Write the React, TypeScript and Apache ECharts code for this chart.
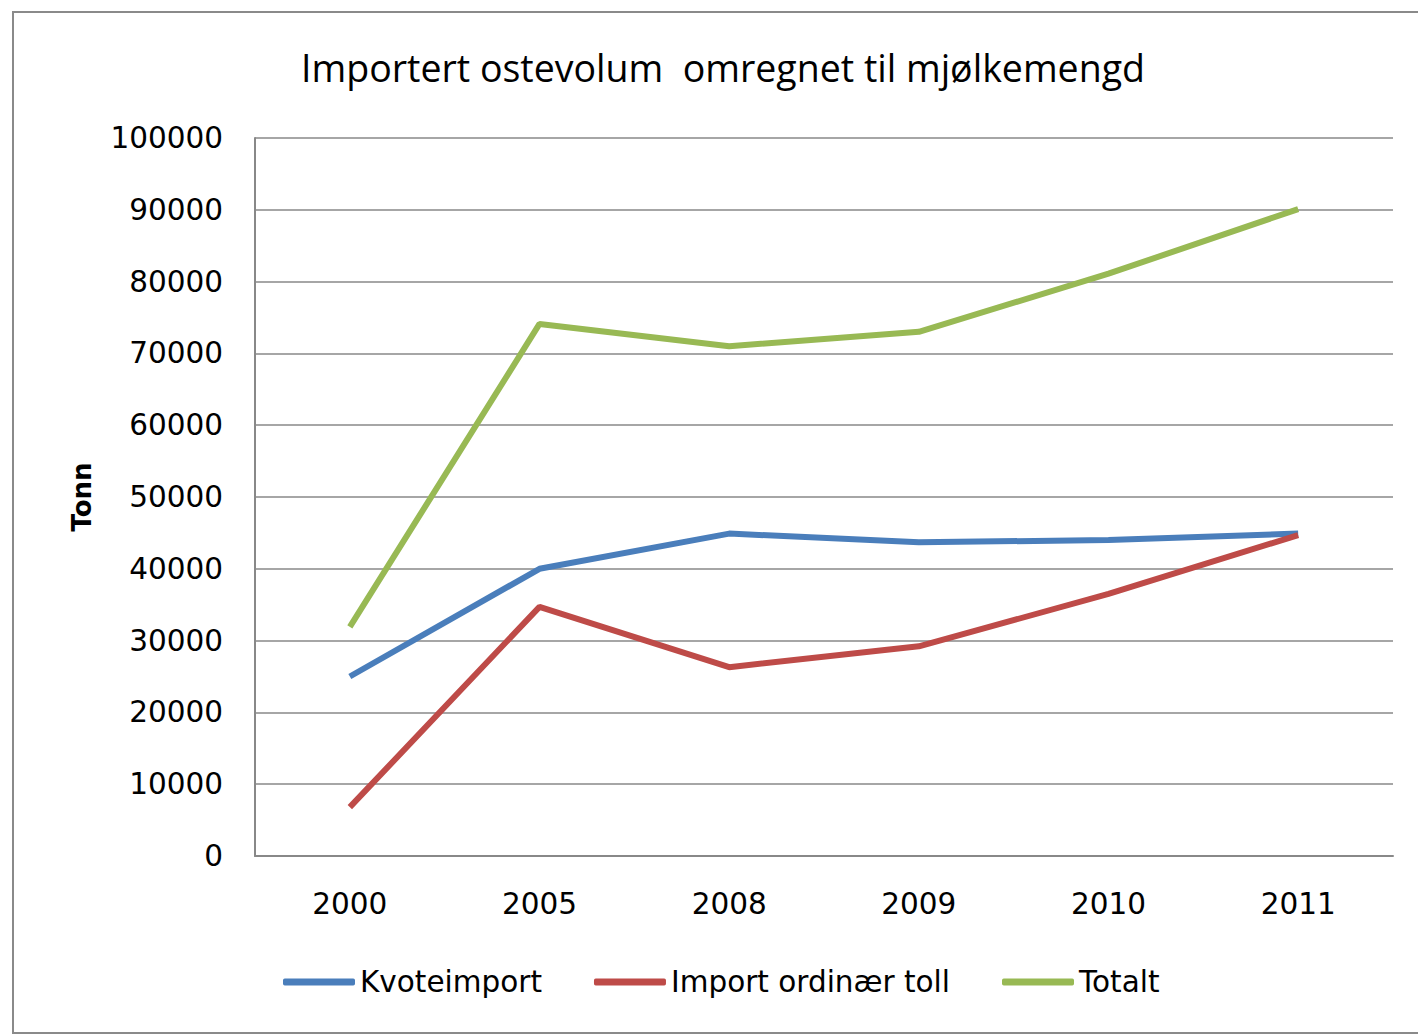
import React, { useEffect, useRef } from "react";
import * as echarts from "echarts";

const categories = ["2000", "2005", "2008", "2009", "2010", "2011"];
const kvoteimport = [25000, 40000, 44900, 43700, 44000, 44900];
const importOrdinaer = [6800, 34700, 26300, 29200, 36500, 44700];
const totalt = [31900, 74100, 71000, 73000, 81100, 90100];
const seriesNames = ["Kvoteimport", "Import ordinær toll", "Totalt"];
const titleText = "Importert ostevolum  omregnet til mjølkemengd";
const yAxisName = "Tonn";

export default function App() {
  const ref = useRef<HTMLDivElement>(null);
  useEffect(() => {
    if (!ref.current) return;
    const chart = echarts.init(ref.current, null, { renderer: "svg" });
    const tickFont = { fontFamily: "DejaVu Sans", fontSize: 29.5, color: "#000" };
    chart.setOption({
      animation: false,
      backgroundColor: "#fff",
      title: {
        text: titleText,
        left: 718,
        textAlign: "center",
        top: 43,
        textStyle: {
          fontFamily: "Open Sans, sans-serif",
          fontSize: 37.5,
          fontWeight: "normal",
          color: "#000",
        },
      },
      graphic: [
        {
          type: "rect",
          shape: { x: 13, y: 12, width: 1420, height: 1021 },
          style: { fill: "none", stroke: "#8a8a8a", lineWidth: 2 },
          silent: true,
        },
      ],
      legend: {
        left: 278,
        top: 962,
        icon: "roundRect",
        itemWidth: 72,
        itemHeight: 7,
        itemGap: 52,
        textStyle: { fontFamily: "DejaVu Sans", fontSize: 29.5, color: "#000" },
        data: seriesNames,
      },
      grid: { left: 255, right: 25, top: 138, bottom: 179, containLabel: false },
      xAxis: {
        type: "category",
        data: categories,
        boundaryGap: true,
        axisLine: { lineStyle: { color: "#888", width: 2 } },
        axisTick: { show: false },
        axisLabel: { ...tickFont, margin: 33 },
      },
      yAxis: {
        type: "value",
        min: 0,
        max: 100000,
        interval: 10000,
        name: yAxisName,
        nameLocation: "middle",
        nameRotate: 90,
        nameGap: 160,
        nameTextStyle: { fontFamily: "DejaVu Sans", fontSize: 26, fontWeight: "bold", color: "#000" },
        axisLine: { show: true, lineStyle: { color: "#888", width: 2 } },
        axisTick: { show: false },
        axisLabel: { ...tickFont, margin: 32, formatter: (v: number) => String(v) },
        splitLine: { lineStyle: { color: "#888", width: 1.5 } },
      },
      series: [
        { name: seriesNames[0], type: "line", data: kvoteimport, symbol: "none", color: "#4A7EBB", lineStyle: { width: 6 } },
        { name: seriesNames[1], type: "line", data: importOrdinaer, symbol: "none", color: "#BE4B48", lineStyle: { width: 6 } },
        { name: seriesNames[2], type: "line", data: totalt, symbol: "none", color: "#98B954", lineStyle: { width: 6 } },
      ],
    });
    return () => chart.dispose();
  }, []);
  return (
    <div
      ref={ref}
      style={{ position: "fixed", left: 0, top: 0, width: 1418, height: 1035, background: "#fff" }}
    />
  );
}
